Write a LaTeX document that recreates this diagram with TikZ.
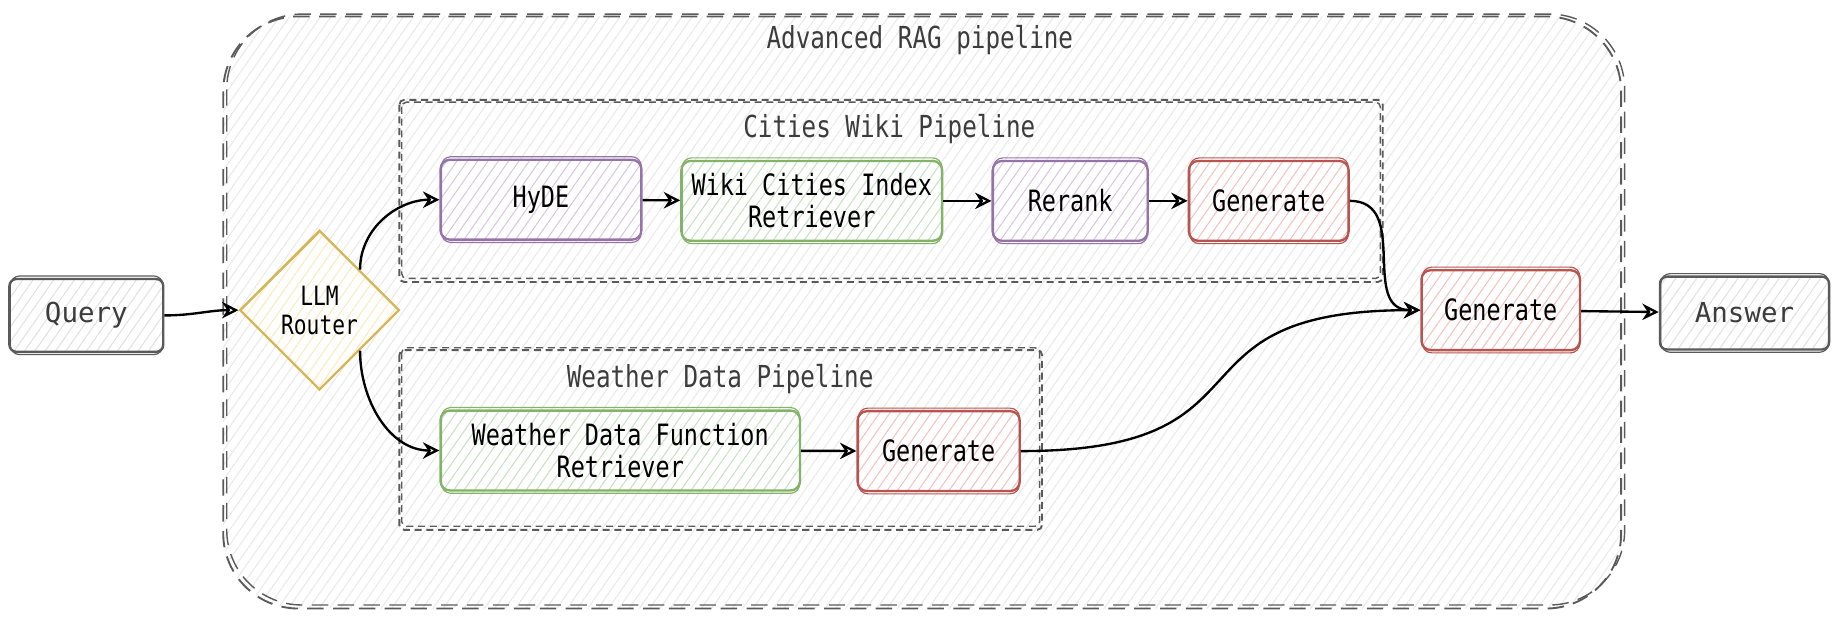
\documentclass[tikz,border=0pt]{standalone}
\usepackage{fontspec}
\usetikzlibrary{shapes.geometric,arrows.meta,patterns.meta}
\newfontfamily\narrowmono[FakeStretch=0.8]{DejaVu Sans Mono}
\newfontfamily\widemono{DejaVu Sans Mono}
\definecolor{purpleS}{HTML}{9673A6}
\definecolor{purpleF}{HTML}{D9C8E3}
\definecolor{greenS}{HTML}{82B366}
\definecolor{greenF}{HTML}{C9E2C4}
\definecolor{redS}{HTML}{B85450}
\definecolor{redF}{HTML}{F5C3C1}
\definecolor{yellowS}{HTML}{D6B656}
\definecolor{yellowF}{HTML}{FBEBBF}
\definecolor{grayS}{HTML}{5A5A5A}
\definecolor{grayF}{HTML}{E2E2E2}
\definecolor{bgH}{HTML}{E9E9E9}
\definecolor{titleC}{HTML}{3C3C3C}
\tikzset{
  hatch/.style={preaction={fill=white},pattern={Lines[angle=55,distance=3.6pt,line width=0.45pt]},pattern color=#1},
  procbox/.style 2 args={draw=#1,hatch=#2,line width=1pt,rounded corners=4pt,minimum height=34pt,
    align=center,font=\narrowmono\fontsize{12.5}{13.5}\selectfont,text=black,inner sep=2pt},
  termbox/.style={draw=grayS,hatch=grayF,line width=1pt,rounded corners=3pt,minimum height=31pt,
    font=\widemono\fontsize{11.7}{13}\selectfont,text=titleC},
  routerbox/.style={shape=diamond,draw=yellowS,hatch=yellowF,line width=1pt,minimum width=68pt,minimum height=68pt,
    inner sep=0pt,align=center,font=\narrowmono\fontsize{11.3}{12.3}\selectfont,text=black},
  titletext/.style={font=\narrowmono\fontsize{12.9}{14}\selectfont,text=titleC},
  outerframe/.style={draw=grayS,line width=0.8pt,dash pattern=on 7pt off 4pt,rounded corners=32pt},
  innerframe/.style={draw=grayS,line width=0.8pt,dash pattern=on 3pt off 2pt,rounded corners=2pt},
  secondstroke/.style={draw=#1,line width=0.5pt,rounded corners=4pt},
  flow/.style={draw=black,line width=1pt,-{Stealth[open,length=7pt,width=7pt]}},
}
\begin{document}
\begin{tikzpicture}[x=0.5pt,y=-0.5pt]
\useasboundingbox (0,0) rectangle (1568,529.5);
% outer frame
\path[pattern={Lines[angle=55,distance=3.6pt,line width=0.45pt]},pattern color=bgH,rounded corners=32pt]
  (190,14) rectangle (1380,518);
\path[outerframe] (190,14) rectangle (1380,518);
\path[outerframe,line width=0.6pt] (193,12) rectangle (1383,515);
\node[titletext] (tOuter) at (783,34) {Advanced RAG pipeline};
% inner frames
\path[innerframe] (340,85) rectangle (1177,240);
\path[innerframe,line width=0.6pt] (342,87) rectangle (1175,237);
\node[titletext] (tCities) at (757,110) {Cities Wiki Pipeline};
\path[innerframe] (340,298) rectangle (887,451);
\path[innerframe,line width=0.6pt] (342,296) rectangle (885,448);
\node[titletext] (tWeather) at (613,323) {Weather Data Pipeline};
% nodes
\node[termbox,minimum width=65.5pt] (query) at (73.5,268.5) {Query};
\node[routerbox] (router) at (272,264) {LLM\\Router};
\node[procbox={purpleS}{purpleF},minimum width=85.5pt] (hyde) at (460.5,170) {HyDE};
\node[procbox={greenS}{greenF},minimum width=111pt] (wiki) at (691,171) {Wiki Cities Index\\Retriever};
\node[procbox={purpleS}{purpleF},minimum width=66pt] (rerank) at (911,171) {Rerank};
\node[procbox={redS}{redF},minimum width=68pt] (gen1) at (1080,171) {Generate};
\node[procbox={greenS}{greenF},minimum width=153pt] (wdf) at (528,383.5) {Weather Data Function\\Retriever};
\node[procbox={redS}{redF},minimum width=69pt] (gen2) at (799,384) {Generate};
\node[procbox={redS}{redF},minimum width=67.5pt] (genf) at (1277.5,264) {Generate};
\node[termbox,minimum width=72pt] (answer) at (1485,266.5) {Answer};
% sketchy second strokes
\foreach \n/\c in {query/grayS,hyde/purpleS,wiki/greenS,rerank/purpleS,gen1/redS,wdf/greenS,gen2/redS,genf/redS,answer/grayS}
  \draw[secondstroke=\c] ([shift={(0.9pt,-0.7pt)}]\n.south west) rectangle ([shift={(-0.6pt,0.8pt)}]\n.north east);
\draw[yellowS,line width=0.5pt] ([shift={(1pt,0pt)}]router.west) -- ([shift={(0.6pt,-0.8pt)}]router.north);
% connectors
\draw[flow] (query.east) to[out=0,in=180] (router.west);
\draw[flow] (router.north east) to[out=90,in=180] (hyde.west);
\draw[flow] (router.south east) to[out=-90,in=180] (wdf.west);
\draw[flow] (hyde) -- (wiki);
\draw[flow] (wiki) -- (rerank);
\draw[flow] (rerank) -- (gen1);
\draw[flow] (wdf) -- (gen2);
\draw[flow] (gen1.east) to[out=0,in=180,looseness=1.2] (genf.west);
\draw[flow] (gen2.east) to[out=0,in=180,looseness=1.6] (genf.west);
\draw[flow] (genf) -- (answer);
\end{tikzpicture}
\end{document}
